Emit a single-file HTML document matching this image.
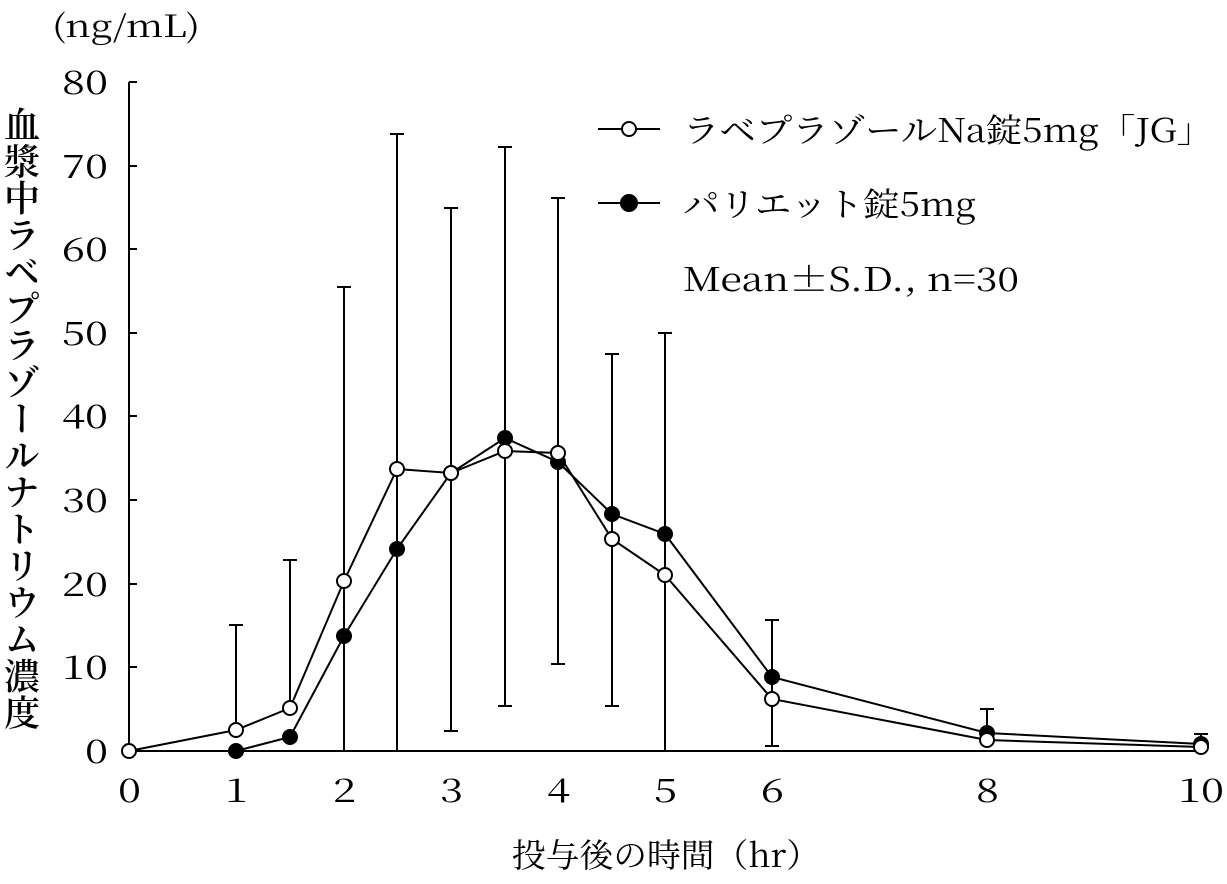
<!DOCTYPE html>
<html><head><meta charset="utf-8"><style>
html,body{margin:0;padding:0;background:#fff;}
svg text{font-family:"Noto Serif CJK JP","Noto Serif CJK SC","Liberation Serif",serif;fill:#000;}
</style></head><body>
<svg width="1227" height="879" viewBox="0 0 1227 879" xmlns="http://www.w3.org/2000/svg">
<g stroke="#000" stroke-width="2" fill="none">
<line x1="129" y1="82" x2="129" y2="751"/>
<line x1="129" y1="751" x2="1201" y2="751"/>
<line x1="129" y1="82" x2="137" y2="82"/><line x1="129" y1="166" x2="137" y2="166"/>
<line x1="129" y1="249" x2="137" y2="249"/><line x1="129" y1="333" x2="137" y2="333"/>
<line x1="129" y1="416" x2="137" y2="416"/><line x1="129" y1="500" x2="137" y2="500"/>
<line x1="129" y1="584" x2="137" y2="584"/><line x1="129" y1="667" x2="137" y2="667"/>
</g>
<g stroke="#000" stroke-width="2" fill="none">
<path d="M236 730V625M229 625h14"/>
<path d="M290 708V560M283 560h14"/>
<path d="M344 751V287M337 287h14"/>
<path d="M397 751V134M390 134h14"/>
<path d="M451 731V208M444 208h14M444 731h14"/>
<path d="M505 706V147M498 147h14M498 706h14"/>
<path d="M558 664V198M551 198h14M551 664h14"/>
<path d="M612 706V354M605 354h14M605 706h14"/>
<path d="M665 751V333M658 333h14"/>
<path d="M772 746V620M765 620h14M765 746h14"/>
<path d="M987 740V709M980 709h14"/>
<path d="M1201 745V734M1194 734h14"/>
</g>
<polyline fill="none" stroke="#000" stroke-width="2" points="236,751 290,737 344,636 397,549 451,473 505,438 558,462 612,514 665,534 772,677 987,733 1201,744"/>
<g fill="#000">
<circle cx="236" cy="751" r="8"/><circle cx="290" cy="737" r="8"/><circle cx="344" cy="636" r="8"/>
<circle cx="397" cy="549" r="8"/><circle cx="451" cy="473" r="8"/><circle cx="505" cy="438" r="8"/>
<circle cx="558" cy="462" r="8"/><circle cx="612" cy="514" r="8"/><circle cx="665" cy="534" r="8"/>
<circle cx="772" cy="677" r="8"/><circle cx="987" cy="733" r="8"/><circle cx="1201" cy="744" r="8"/>
</g>
<polyline fill="none" stroke="#000" stroke-width="2" points="129,751 236,730 290,708 344,581 397,469 451,473 505,451 558,453 612,539 665,575 772,699 987,740 1201,747"/>
<g fill="#fff" stroke="#000" stroke-width="2">
<circle cx="129" cy="751" r="7"/><circle cx="236" cy="730" r="7"/><circle cx="290" cy="708" r="7"/>
<circle cx="344" cy="581" r="7"/><circle cx="397" cy="469" r="7"/><circle cx="451" cy="473" r="7"/>
<circle cx="505" cy="451" r="7"/><circle cx="558" cy="453" r="7"/><circle cx="612" cy="539" r="7"/>
<circle cx="665" cy="575" r="7"/><circle cx="772" cy="699" r="7"/><circle cx="987" cy="740" r="7"/>
<circle cx="1201" cy="747" r="7"/>
</g>
<g font-size="33">
<text x="62" y="94" textLength="46" lengthAdjust="spacingAndGlyphs">80</text>
<text x="62" y="178" textLength="46" lengthAdjust="spacingAndGlyphs">70</text>
<text x="62" y="261" textLength="46" lengthAdjust="spacingAndGlyphs">60</text>
<text x="62" y="345" textLength="46" lengthAdjust="spacingAndGlyphs">50</text>
<text x="62" y="428" textLength="46" lengthAdjust="spacingAndGlyphs">40</text>
<text x="62" y="512" textLength="46" lengthAdjust="spacingAndGlyphs">30</text>
<text x="62" y="596" textLength="46" lengthAdjust="spacingAndGlyphs">20</text>
<text x="62" y="679" textLength="46" lengthAdjust="spacingAndGlyphs">10</text>
<text x="85" y="763" textLength="23" lengthAdjust="spacingAndGlyphs">0</text>
</g>
<g font-size="33">
<text x="118" y="802" textLength="23" lengthAdjust="spacingAndGlyphs">0</text>
<text x="225" y="802" textLength="23" lengthAdjust="spacingAndGlyphs">1</text>
<text x="333" y="802" textLength="23" lengthAdjust="spacingAndGlyphs">2</text>
<text x="440" y="802" textLength="23" lengthAdjust="spacingAndGlyphs">3</text>
<text x="547" y="802" textLength="23" lengthAdjust="spacingAndGlyphs">4</text>
<text x="654" y="802" textLength="23" lengthAdjust="spacingAndGlyphs">5</text>
<text x="761" y="802" textLength="23" lengthAdjust="spacingAndGlyphs">6</text>
<text x="976" y="802" textLength="23" lengthAdjust="spacingAndGlyphs">8</text>
<text x="1178" y="802" textLength="46" lengthAdjust="spacingAndGlyphs">10</text>
</g>
<text x="52" y="37" font-size="31" textLength="148" lengthAdjust="spacingAndGlyphs">(ng/mL)</text>
<text x="512" y="867" font-size="33" textLength="308" lengthAdjust="spacingAndGlyphs">投与後の時間（hr）</text>
<text x="22" y="106" font-size="36" font-weight="600" style="writing-mode:vertical-rl;" textLength="624" lengthAdjust="spacing">血漿中ラベプラゾールナトリウム濃度</text>
<g stroke="#000" stroke-width="2">
<line x1="598" y1="129" x2="660" y2="129"/>
<circle cx="629" cy="129" r="7" fill="#fff"/>
<line x1="598" y1="203" x2="660" y2="203"/>
<circle cx="629" cy="203" r="8" fill="#000"/>
</g>
<text x="683" y="142" font-size="33" textLength="530" lengthAdjust="spacingAndGlyphs">ラベプラゾールNa錠5mg「JG」</text>
<text x="683" y="216" font-size="33" textLength="293" lengthAdjust="spacingAndGlyphs">パリエット錠5mg</text>
<text x="683" y="291" font-size="33" textLength="336" lengthAdjust="spacingAndGlyphs">Mean±S.D., n=30</text>
</svg>
</body></html>
